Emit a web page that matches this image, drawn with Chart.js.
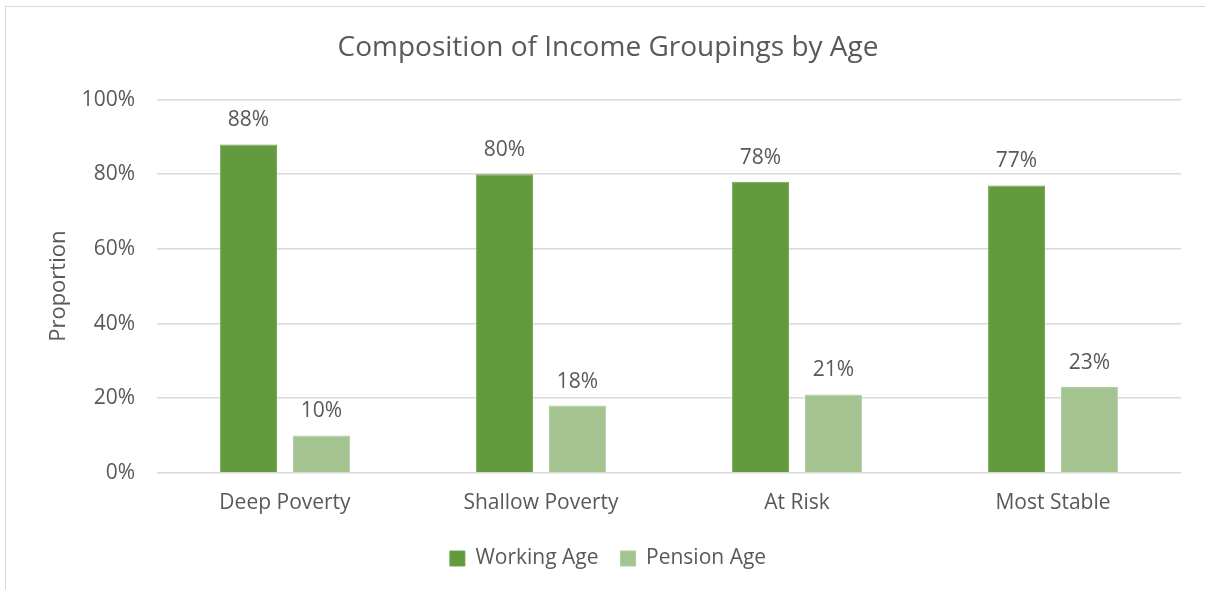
<!DOCTYPE html>
<html>
<head>
<meta charset="utf-8">
<script src="https://cdn.jsdelivr.net/npm/chart.js@4/dist/chart.umd.min.js"></script>
<style>
  html, body { margin: 0; padding: 0; background: #fff; overflow: hidden; }
  #wrap { position: relative; width: 1205px; height: 590px; }
  #frame { position: absolute; left: 5px; top: 6px; width: 1300px; height: 700px; border: 1.5px solid #d9d9d9; }
  canvas { position: absolute; left: 0; top: 0; }
</style>
</head>
<body>
<div id="wrap">
  <div id="frame"></div>
  <canvas id="ageChart" width="1205" height="590"></canvas>
</div>
<script>
// income groupings and the share of each age band
const categories = ['Deep Poverty', 'Shallow Poverty', 'At Risk', 'Most Stable'];
const workingAge = [88, 80, 78, 77];
const pensionAge = [10, 18, 21, 23];
const yTicks = [0, 20, 40, 60, 80, 100];

const textColor = '#595959';
const fontFamily = '"Open Sans", "DejaVu Sans", sans-serif';

// writes the percentage above each bar
const barLabels = {
    id: 'barLabels',
    afterDatasetsDraw(chart) {
        const ctx = chart.ctx;
        ctx.save();
        ctx.font = '21px ' + fontFamily;
        ctx.fillStyle = textColor;
        ctx.textAlign = 'center';
        ctx.textBaseline = 'alphabetic';
        chart.data.datasets.forEach((ds, i) => {
            chart.getDatasetMeta(i).data.forEach((bar, j) => {
                ctx.fillText(ds.data[j] + '%', bar.x, bar.y - 18);
            });
        });
        ctx.restore();
    }
};

const ctx = document.getElementById('ageChart').getContext('2d');
new Chart(ctx, {
    type: 'bar',
    data: {
        labels: categories,
        datasets: [{
            label: 'Working Age',
            data: workingAge,
            backgroundColor: '#639a3e',
            borderColor: '#6fa34c',
            borderWidth: 1
        }, {
            label: 'Pension Age',
            data: pensionAge,
            backgroundColor: '#a3c491',
            borderColor: '#b0cd9f',
            borderWidth: 1
        }]
    },
    options: {
        responsive: false,
        animation: false,
        layout: { padding: { left: 35, right: 24, top: 0, bottom: 11 } },
        datasets: {
            bar: { categoryPercentage: 0.57, barPercentage: 0.78 }
        },
        plugins: {
            title: {
                display: true,
                text: 'Composition of Income Groupings by Age',
                color: textColor,
                font: { family: fontFamily, size: 28, weight: 'normal' },
                padding: { top: 31, bottom: 35 }
            },
            legend: {
                position: 'bottom',
                labels: {
                    color: textColor,
                    font: { family: fontFamily, size: 21 },
                    boxWidth: 15,
                    boxHeight: 15,
                    padding: 22
                }
            },
            tooltip: { enabled: false }
        },
        scales: {
            x: {
                grid: { display: false },
                border: { display: false },
                ticks: {
                    color: textColor,
                    font: { family: fontFamily, size: 21 },
                    padding: 10
                }
            },
            y: {
                min: 0,
                max: 100,
                afterBuildTicks(axis) {
                    axis.ticks = yTicks.map(v => ({ value: v }));
                },
                afterFit(axis) { axis.width = 122; },
                grid: { color: '#d9d9d9', lineWidth: 1.5, drawTicks: false },
                border: { display: false },
                ticks: {
                    color: textColor,
                    font: { family: fontFamily, size: 21 },
                    padding: 22,
                    callback: v => v + '%'
                },
                title: {
                    display: true,
                    text: 'Proportion',
                    color: textColor,
                    font: { family: fontFamily, size: 22 },
                    padding: { top: 11, bottom: 0 }
                }
            }
        }
    },
    plugins: [barLabels]
});
</script>
</body>
</html>
